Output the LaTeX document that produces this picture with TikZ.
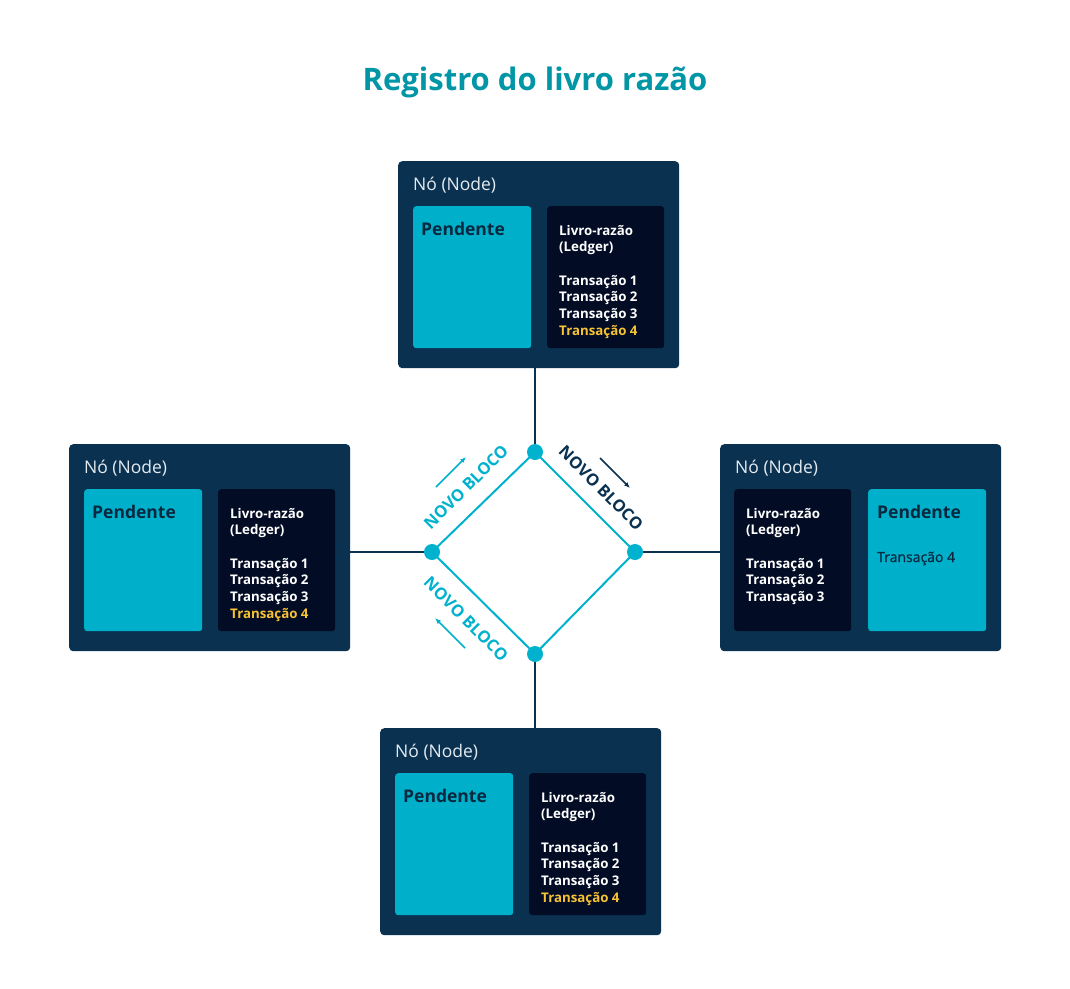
\documentclass[tikz,border=0pt]{standalone}
\usepackage{fontspec}
\setmainfont{Open Sans}
\newfontfamily\semifont[FakeBold=0.9]{Open Sans}
\usetikzlibrary{arrows.meta}
\definecolor{navy}{HTML}{0A3150}
\definecolor{pend}{HTML}{00B0CB}
\definecolor{ledg}{HTML}{020C25}
\definecolor{ylw}{HTML}{F7C233}
\definecolor{ttl}{HTML}{0096A6}
\definecolor{teal}{HTML}{00B2CD}
\definecolor{nodetxt}{HTML}{E4ECF2}
\definecolor{pendtxt}{HTML}{08283F}
\tikzset{
  nodebox/.style={fill=navy, rounded corners=4pt, minimum width=281pt, minimum height=207pt, anchor=north west, inner sep=0pt, draw=none},
  pendbox/.style={fill=pend, rounded corners=3pt, minimum width=118pt, minimum height=142pt, anchor=north west, inner sep=0pt},
  ledgbox/.style={fill=ledg, rounded corners=3pt, minimum width=117pt, minimum height=142pt, anchor=north west, inner sep=0pt},
  titletext/.style={text=ttl, font=\fontsize{31}{36}\selectfont\bfseries, anchor=base, inner sep=0pt},
  nodetitle/.style={text=nodetxt, font=\fontsize{17.5}{20}\selectfont, anchor=base west, inner sep=0pt},
  pendtitle/.style={text=pendtxt, font=\fontsize{17.5}{20}\selectfont\bfseries, anchor=base west, inner sep=0pt},
  ltext/.style={text=white, font=\fontsize{13.3}{16.7}\selectfont\bfseries, anchor=base west, inner sep=0pt},
  ptext/.style={text=pendtxt, font=\fontsize{14}{16.7}\semifont, anchor=base west, inner sep=0pt},
  link/.style={draw=navy, line width=2pt},
  ring/.style={draw=teal, line width=2pt},
  dot/.style={circle, fill=teal, minimum size=16pt, inner sep=0pt},
  blocklabel/.style={font=\fontsize{16.5}{18}\selectfont\bfseries, inner sep=0pt},
  blockarrow/.style={line width=1.6pt, -{Latex[length=6pt,width=5pt]}},
}
% #1 name, #2 x, #3 y
\newcommand{\stdnode}[3]{%
  \node[nodebox] (#1) at (#2,#3) {};
  \node[nodetitle] (#1-t) at ([xshift=15pt,yshift=-29pt]#1.north west) {Nó (Node)};
  \node[pendbox] (#1-p) at ([xshift=15pt,yshift=-45pt]#1.north west) {};
  \node[ledgbox] (#1-l) at ([xshift=149pt,yshift=-45pt]#1.north west) {};
  \node[pendtitle] (#1-pt) at ([xshift=8pt,yshift=-29pt]#1-p.north west) {Pendente};
  \node[ltext] (#1-l1) at ([xshift=12pt,yshift=-29pt]#1-l.north west) {Livro-razão};
  \node[ltext] (#1-l2) at ([yshift=-16.7pt]#1-l1.base west) {(Ledger)};
  \node[ltext] (#1-l3) at ([yshift=-33.4pt]#1-l2.base west) {Transação 1};
  \node[ltext] (#1-l4) at ([yshift=-16.7pt]#1-l3.base west) {Transação 2};
  \node[ltext] (#1-l5) at ([yshift=-16.7pt]#1-l4.base west) {Transação 3};
  \node[ltext, text=ylw] (#1-l6) at ([yshift=-16.7pt]#1-l5.base west) {Transação 4};
}
\begin{document}
\begin{tikzpicture}[x=1pt, y=-1pt]
  \fill[white] (0,0) rectangle (1070,988);
  \useasboundingbox (0,0) rectangle (1070,988);

  \node[titletext] (title) at (535,90) {Registro do livro razão};

  \stdnode{top}{398}{161}
  \stdnode{left}{69}{444}
  \stdnode{bottom}{380}{728}

  % right node (ledger left, pending right)
  \node[nodebox] (right) at (720,444) {};
  \node[nodetitle] (right-t) at ([xshift=15pt,yshift=-29pt]right.north west) {Nó (Node)};
  \node[ledgbox] (right-l) at ([xshift=14pt,yshift=-45pt]right.north west) {};
  \node[pendbox] (right-p) at ([xshift=148pt,yshift=-45pt]right.north west) {};
  \node[ltext] (right-l1) at ([xshift=12pt,yshift=-29pt]right-l.north west) {Livro-razão};
  \node[ltext] (right-l2) at ([yshift=-16.7pt]right-l1.base west) {(Ledger)};
  \node[ltext] (right-l3) at ([yshift=-33.4pt]right-l2.base west) {Transação 1};
  \node[ltext] (right-l4) at ([yshift=-16.7pt]right-l3.base west) {Transação 2};
  \node[ltext] (right-l5) at ([yshift=-16.7pt]right-l4.base west) {Transação 3};
  \node[pendtitle] (right-pt) at ([xshift=9pt,yshift=-29pt]right-p.north west) {Pendente};
  \node[ptext] (right-p1) at ([yshift=-44pt]right-pt.base west) {Transação 4};

  % diamond vertices
  \coordinate (vt) at (535,452);
  \coordinate (vl) at (432,552);
  \coordinate (vr) at (635,552);
  \coordinate (vb) at (535,654);

  % links from nodes to diamond
  \draw[link] (vt |- top.south) -- (vt);
  \draw[link] (left.east |- vl) -- (vl);
  \draw[link] (vr) -- (right.west |- vr);
  \draw[link] (vb) -- (vb |- bottom.north);

  % diamond
  \draw[ring] (vt) -- (vr) -- (vb) -- (vl) -- cycle;
  \node[dot] (dt) at (vt) {};
  \node[dot] (dl) at (vl) {};
  \node[dot] (dr) at (vr) {};
  \node[dot] (db) at (vb) {};

  % labels
  \node[blocklabel, text=teal, rotate=45] (lab1) at (466,487) {NOVO BLOCO};
  \node[blocklabel, text=navy, rotate=-45] (lab2) at (601,488) {NOVO BLOCO};
  \node[blocklabel, text=teal, rotate=-45] (lab3) at (466,619) {NOVO BLOCO};

  \coordinate (a1s) at (436,487); \coordinate (a1e) at (466,457);
  \coordinate (a2s) at (600,458); \coordinate (a2e) at (630,488);
  \coordinate (a3s) at (465,648); \coordinate (a3e) at (435,618);
  \draw[blockarrow, draw=teal, fill=teal] (a1s) -- (a1e);
  \draw[blockarrow, draw=navy, fill=navy] (a2s) -- (a2e);
  \draw[blockarrow, draw=teal, fill=teal] (a3s) -- (a3e);
\end{tikzpicture}
\end{document}
